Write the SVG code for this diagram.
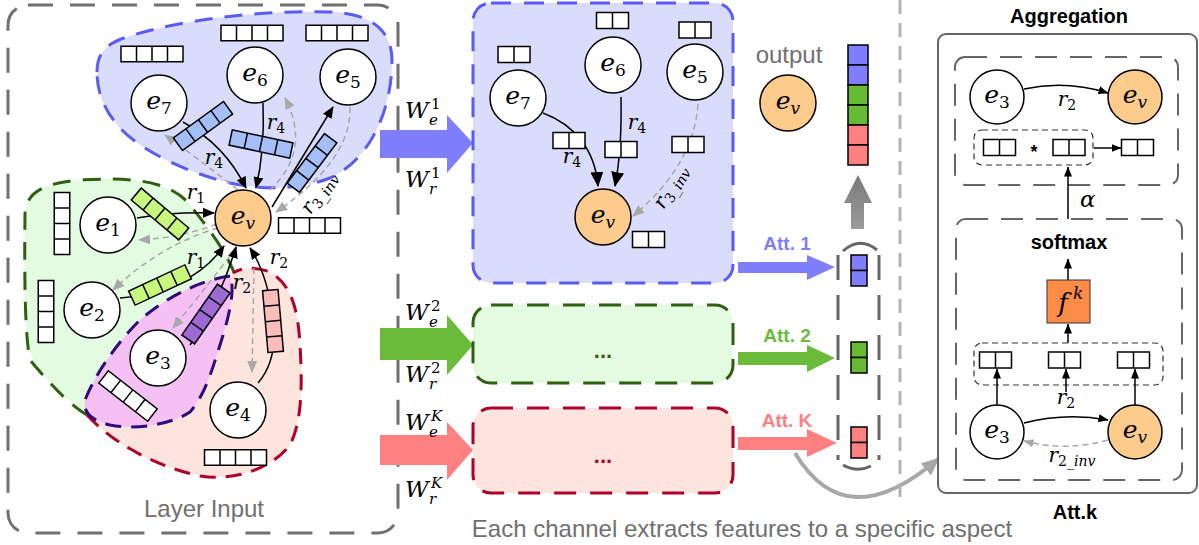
<svg xmlns="http://www.w3.org/2000/svg" width="1199" height="545" viewBox="0 0 1199 545">
<defs>
<style>
.node{fill:#fff;stroke:#000;stroke-width:1.5}
.ev{fill:#fdcc8c;stroke:#000;stroke-width:1.5}
.lbl{font-family:"DejaVu Serif","Liberation Serif",serif;font-style:italic;font-size:25px;fill:#000}
.sub{font-size:17px;font-style:normal}
.subi{font-size:17px;font-style:italic}
.rl{font-family:"DejaVu Serif","Liberation Serif",serif;font-style:italic;font-size:20px;fill:#000}
.rs{font-size:14px;font-style:normal}
.rsi{font-size:14px;font-style:italic}
.W{font-family:"DejaVu Serif","Liberation Serif",serif;font-style:italic;font-size:23px;fill:#000}
.Ws{font-family:"DejaVu Serif","Liberation Serif",serif;font-size:15px;fill:#000}
.edge{fill:none;stroke:#000;stroke-width:1.5}
.back{fill:none;stroke:#a8a8a8;stroke-width:1.5;stroke-dasharray:6 4}
.sans{font-family:"Liberation Sans",Arial,sans-serif}
.bold{font-family:"Liberation Sans",Arial,sans-serif;font-weight:bold;font-size:20px;fill:#000}
.gtxt{font-family:"Liberation Sans",Arial,sans-serif;font-size:23px;fill:#707070}
.dbox{fill:none;stroke:#333;stroke-width:1.2;stroke-dasharray:6 4}
.pbox{fill:none;stroke:#666;stroke-width:2;stroke-dasharray:22 13}
</style>
<g id="bar4"><rect x="-31" y="-7.75" width="62" height="15.5"/><path d="M-15.5-7.75v15.5M0-7.75v15.5M15.5-7.75v15.5" fill="none"/></g>
<g id="bar2"><rect x="-16" y="-8" width="32" height="16"/><path d="M0-8v16" fill="none"/></g>
<marker id="ak" viewBox="0 0 12 10" refX="11" refY="5" markerWidth="12" markerHeight="10" markerUnits="userSpaceOnUse" orient="auto"><path d="M0,0L12,5L0,10z" fill="#000"/></marker>
<marker id="ag" viewBox="0 0 12 10" refX="11" refY="5" markerWidth="12" markerHeight="10" markerUnits="userSpaceOnUse" orient="auto"><path d="M0,0L12,5L0,10z" fill="#a8a8a8"/></marker>
<marker id="akL" viewBox="0 0 15 13" refX="14" refY="6.5" markerWidth="15" markerHeight="13" markerUnits="userSpaceOnUse" orient="auto"><path d="M0,0L15,6.5L0,13z" fill="#000"/></marker>
<marker id="aks" viewBox="0 0 10 8" refX="9.5" refY="4" markerWidth="10" markerHeight="8" markerUnits="userSpaceOnUse" orient="auto"><path d="M0,0L10,4L0,8z" fill="#000"/></marker>
<marker id="ags" viewBox="0 0 10 8" refX="9.5" refY="4" markerWidth="10" markerHeight="8" markerUnits="userSpaceOnUse" orient="auto"><path d="M0,0L10,4L0,8z" fill="#a8a8a8"/></marker>
<marker id="agB" viewBox="0 0 18 16" refX="16" refY="8" markerWidth="18" markerHeight="16" markerUnits="userSpaceOnUse" orient="auto"><path d="M0,0L18,8L0,16z" fill="#a8a8a8"/></marker>
<linearGradient id="gg" x1="0" y1="1" x2="0" y2="0"><stop offset="0" stop-color="#9a9a9a"/><stop offset="1" stop-color="#7a7a7a"/></linearGradient>
</defs>

<!-- ===== Left panel: Layer Input ===== -->
<g id="layer-input">
<rect x="8" y="5" width="390" height="528" rx="20" fill="none" stroke="#707070" stroke-width="3" stroke-dasharray="25 17"/>
<text class="gtxt" x="204" y="517" text-anchor="middle" style="font-size:24px">Layer Input</text>
</g>

<g id="blobs">
<path d="M25,215 C25,195 40,183 80,180 C130,177 170,180 190,205 C210,230 228,255 235,280 L200,340 L120,425 C100,420 87,415 80,410 C55,390 30,365 27,340 C24,300 24,250 25,215 Z" fill="#e3fbe0"/>
<path d="M87,415 C73,407 55,390 30,360 C26,340 24,300 25,215 C25,195 40,183 80,180 C130,177 170,180 190,205 C210,230 228,255 235,275" fill="none" stroke="#2f5f0f" stroke-width="3" stroke-dasharray="18 12"/>
<path d="M87,415 C110,440 150,465 200,476 C240,482 275,465 290,445 C303,420 302,380 300,345 C298,310 292,285 270,272 C255,266 240,268 233,273 L180,330 Z" fill="#fde5dd"/>
<path d="M87,415 C110,440 150,465 200,476 C240,482 275,465 290,445 C303,420 302,380 300,345 C298,310 292,285 270,272 C255,266 240,268 233,273" fill="none" stroke="#b0002a" stroke-width="3" stroke-dasharray="16 10"/>
<path d="M230,276 C200,280 165,298 140,320 C115,345 95,375 85,400 C83,412 90,420 110,425 C135,430 170,425 190,412 C205,395 212,370 220,345 C228,320 236,290 230,276 Z" fill="#f5c1f5" stroke="#2e0a7a" stroke-width="3" stroke-dasharray="16 10"/>
<path d="M97,72 C97,50 110,42 130,36 C180,20 260,10 330,12 C370,13 392,30 392,60 C392,110 370,160 330,178 C300,190 260,190 230,183 C185,172 140,150 120,128 C104,110 97,92 97,72 Z" fill="#dadcfb" stroke="#5b5bf5" stroke-width="3" stroke-dasharray="18 12"/>
</g>

<g id="left-connectors">
<path class="edge" d="M183,122 Q225,145 246,188" marker-end="url(#ak)"/>
<path class="back" d="M238,190 Q200,160 165,135" marker-end="url(#ag)"/>
<path class="edge" d="M263,103 Q265,150 256,188" marker-end="url(#ak)"/>
<path class="back" d="M270,190 Q312,150 285,98" marker-end="url(#ag)"/>
<path class="edge" d="M272,207 L333,107" marker-end="url(#ak)"/>
<path class="back" d="M350,107 Q352,160 276,212" marker-end="url(#ag)"/>
<path class="edge" d="M137,218 Q170,212 214,213" marker-end="url(#ak)"/>
<path class="back" d="M217,224 Q180,238 139,240" marker-end="url(#ag)"/>
<path class="edge" d="M120,298 C160,295 200,280 224,246" marker-end="url(#ak)"/>
<path class="back" d="M218,228 Q160,245 113,290" marker-end="url(#ag)"/>
<path class="edge" d="M190,345 Q220,300 236,247" marker-end="url(#ak)"/>
<path class="back" d="M230,256 Q200,295 173,328" marker-end="url(#ag)"/>
<path class="edge" d="M258,383 Q278,360 273,320 Q268,275 250,248" marker-end="url(#ak)"/>
<path class="back" d="M254,268 L252,372" marker-end="url(#ag)"/>
<use href="#bar4" transform="translate(203,126) rotate(-36)" fill="#a4bff7" stroke="#000" stroke-width="1.5"/>
<use href="#bar4" transform="translate(261,144) rotate(12)" fill="#a4bff7" stroke="#000" stroke-width="1.5"/>
<use href="#bar4" transform="translate(312,163) rotate(-53)" fill="#a4bff7" stroke="#000" stroke-width="1.5"/>
<use href="#bar4" transform="translate(160,214) rotate(40)" fill="#c9f77d" stroke="#000" stroke-width="1.5"/>
<use href="#bar4" transform="translate(160,285) rotate(-25)" fill="#c9f77d" stroke="#000" stroke-width="1.5"/>
<use href="#bar4" transform="translate(206,314) rotate(-55)" fill="#9d6ad3" stroke="#000" stroke-width="1.5"/>
<use href="#bar4" transform="translate(273,321) rotate(85)" fill="#fbbcbc" stroke="#000" stroke-width="1.5"/>
<text class="rl" x="214" y="164" text-anchor="middle">r<tspan class="rs" dy="4">4</tspan></text>
<text class="rl" x="276" y="129" text-anchor="middle">r<tspan class="rs" dy="4">4</tspan></text>
<text class="rl" x="196" y="199" text-anchor="middle">r<tspan class="rs" dy="4">1</tspan></text>
<text class="rl" x="196" y="264" text-anchor="middle">r<tspan class="rs" dy="4">1</tspan></text>
<text class="rl" x="242" y="289" text-anchor="middle">r<tspan class="rs" dy="4">2</tspan></text>
<text class="rl" x="279" y="264" text-anchor="middle">r<tspan class="rs" dy="4">2</tspan></text>
<text class="rl" transform="translate(324,196) rotate(-55)" x="0" y="0" text-anchor="middle" fill="#333">r<tspan class="rs" dy="4">3_</tspan><tspan class="rsi">inv</tspan></text>
</g>

<g id="left-nodes">
<g id="L-e7"><circle class="node" cx="159" cy="103" r="28"/><text class="lbl" x="159" y="109" text-anchor="middle">e<tspan class="sub" dy="5">7</tspan></text><use href="#bar4" transform="translate(152,54)" fill="#fff" stroke="#000" stroke-width="1.5"/></g>
<g id="L-e6"><circle class="node" cx="255" cy="75" r="28"/><text class="lbl" x="255" y="81" text-anchor="middle">e<tspan class="sub" dy="5">6</tspan></text><use href="#bar4" transform="translate(252,33)" fill="#fff" stroke="#000" stroke-width="1.5"/></g>
<g id="L-e5"><circle class="node" cx="348" cy="77" r="28"/><text class="lbl" x="348" y="83" text-anchor="middle">e<tspan class="sub" dy="5">5</tspan></text><use href="#bar4" transform="translate(337,33)" fill="#fff" stroke="#000" stroke-width="1.5"/></g>
<g id="L-ev"><circle class="ev" cx="243" cy="218" r="28"/><text class="lbl" x="243" y="224" text-anchor="middle">e<tspan class="subi" dy="5">v</tspan></text><use href="#bar4" transform="translate(309.5,225.5)" fill="#fff" stroke="#000" stroke-width="1.5"/></g>
<g id="L-e1"><circle class="node" cx="108" cy="225" r="28"/><text class="lbl" x="108" y="231" text-anchor="middle">e<tspan class="sub" dy="5">1</tspan></text><use href="#bar4" transform="translate(62,223.5) rotate(90)" fill="#fff" stroke="#000" stroke-width="1.5"/></g>
<g id="L-e2"><circle class="node" cx="92" cy="310" r="28"/><text class="lbl" x="92" y="316" text-anchor="middle">e<tspan class="sub" dy="5">2</tspan></text><use href="#bar4" transform="translate(46,311.5) rotate(90)" fill="#fff" stroke="#000" stroke-width="1.5"/></g>
<g id="L-e3"><circle class="node" cx="158" cy="358" r="28"/><text class="lbl" x="158" y="364" text-anchor="middle">e<tspan class="sub" dy="5">3</tspan></text><use href="#bar4" transform="translate(128,396) rotate(38)" fill="#fff" stroke="#000" stroke-width="1.5"/></g>
<g id="L-e4"><circle class="node" cx="238" cy="410" r="28"/><text class="lbl" x="238" y="416" text-anchor="middle">e<tspan class="sub" dy="5">4</tspan></text><use href="#bar4" transform="translate(235.5,457.5)" fill="#fff" stroke="#000" stroke-width="1.5"/></g>
</g>

<!-- ===== Channel arrows ===== -->
<g id="channel-arrows">
<path d="M380,130H447V115L473,143L447,173V158H380Z" fill="#7f7ffd"/>
<path d="M380,328H447V315L473,345L447,375V360H380Z" fill="#6abb3a"/>
<path d="M380,435H447V422L473,450L447,480V465H380Z" fill="#ff8080"/>
<text class="W" x="405" y="118">W</text><text class="Ws" x="429" y="125" font-style="italic">e</text><text class="Ws" x="431" y="109">1</text>
<text class="W" x="405" y="187">W</text><text class="Ws" x="429" y="194" font-style="italic">r</text><text class="Ws" x="431" y="178">1</text>
<text class="W" x="405" y="320">W</text><text class="Ws" x="429" y="327" font-style="italic">e</text><text class="Ws" x="431" y="311">2</text>
<text class="W" x="405" y="382">W</text><text class="Ws" x="429" y="389" font-style="italic">r</text><text class="Ws" x="431" y="373">2</text>
<text class="W" x="405" y="430">W</text><text class="Ws" x="429" y="437" font-style="italic">e</text><text class="Ws" x="431" y="421" font-style="italic">K</text>
<text class="W" x="405" y="497">W</text><text class="Ws" x="429" y="504" font-style="italic">r</text><text class="Ws" x="431" y="488" font-style="italic">K</text>
</g>

<!-- ===== Middle channels ===== -->
<g id="channel-1">
<rect x="473" y="3" width="260" height="280" rx="18" fill="#dadcfb" stroke="#5b5bf5" stroke-width="3" stroke-dasharray="20 13"/>
<path class="edge" d="M543,113 C575,125 595,150 598,186" marker-end="url(#akL)"/>
<path class="edge" d="M621,97 Q622,150 615,186" marker-end="url(#akL)"/>
<path class="back" d="M698,104 Q694,165 633,216" marker-end="url(#ag)"/>
<use href="#bar2" transform="translate(569,140.5)" fill="#fff" stroke="#000" stroke-width="1.5"/>
<use href="#bar2" transform="translate(621,149.5)" fill="#fff" stroke="#000" stroke-width="1.5"/>
<use href="#bar2" transform="translate(688,144.5)" fill="#fff" stroke="#000" stroke-width="1.5"/>
<text class="rl" x="572" y="163" text-anchor="middle">r<tspan class="rs" dy="4">4</tspan></text>
<text class="rl" x="637" y="129" text-anchor="middle">r<tspan class="rs" dy="4">4</tspan></text>
<text class="rl" transform="translate(676,190) rotate(-58)" x="0" y="0" text-anchor="middle" fill="#333">r<tspan class="rs" dy="4">3_</tspan><tspan class="rsi">inv</tspan></text>
<g id="M-e7"><circle class="node" cx="518" cy="98" r="28"/><text class="lbl" x="518" y="104" text-anchor="middle">e<tspan class="sub" dy="5">7</tspan></text><use href="#bar2" transform="translate(514,54.5)" fill="#fff" stroke="#000" stroke-width="1.5"/></g>
<g id="M-e6"><circle class="node" cx="613" cy="65" r="28"/><text class="lbl" x="613" y="71" text-anchor="middle">e<tspan class="sub" dy="5">6</tspan></text><use href="#bar2" transform="translate(612.5,20.5)" fill="#fff" stroke="#000" stroke-width="1.5"/></g>
<g id="M-e5"><circle class="node" cx="695" cy="72" r="28"/><text class="lbl" x="695" y="78" text-anchor="middle">e<tspan class="sub" dy="5">5</tspan></text><use href="#bar2" transform="translate(695,30)" fill="#fff" stroke="#000" stroke-width="1.5"/></g>
<g id="M-ev"><circle class="ev" cx="603" cy="217" r="28"/><text class="lbl" x="603" y="223" text-anchor="middle">e<tspan class="subi" dy="5">v</tspan></text><use href="#bar2" transform="translate(648.5,239.5)" fill="#fff" stroke="#000" stroke-width="1.5"/></g>
</g>
<g id="channel-2">
<rect x="473" y="305" width="260" height="78" rx="18" fill="#e4fbe2" stroke="#2f5f0f" stroke-width="3" stroke-dasharray="22 14"/>
<text class="sans" x="603" y="358" text-anchor="middle" font-size="22" font-weight="bold" fill="#2f5f0f">...</text>
</g>
<g id="channel-K">
<rect x="473" y="408" width="260" height="85" rx="18" fill="#fde5dd" stroke="#b0002a" stroke-width="3" stroke-dasharray="22 14"/>
<text class="sans" x="603" y="463" text-anchor="middle" font-size="22" font-weight="bold" fill="#b0002a">...</text>
</g>

<!-- ===== Output and attention ===== -->
<g id="output">
<text class="gtxt" x="789" y="63" text-anchor="middle" style="font-size:24px">output</text>
<circle class="ev" cx="788" cy="103" r="28"/><text class="lbl" x="788" y="109" text-anchor="middle">e<tspan class="subi" dy="5">v</tspan></text>
<g stroke="#000" stroke-width="1.5">
<rect x="848" y="45" width="20" height="20" fill="#7f7ffd"/><rect x="848" y="65" width="20" height="20" fill="#7f7ffd"/>
<rect x="848" y="85" width="20" height="20" fill="#66bb33"/><rect x="848" y="105" width="20" height="20" fill="#66bb33"/>
<rect x="848" y="125" width="20" height="20" fill="#ff8080"/><rect x="848" y="145" width="20" height="20" fill="#ff8080"/>
</g>
<path d="M851,229V203H844L858,175L872,203H864V229Z" fill="url(#gg)"/>
</g>

<g id="attention-bracket">
<path d="M838,255V460M879,255V460" stroke="#666" stroke-width="3" stroke-dasharray="25 15" fill="none"/>
<path d="M843,251 Q860,236 877,250" stroke="#666" stroke-width="3" fill="none"/>
<path d="M843,465 Q857,473 871,466" stroke="#666" stroke-width="3" fill="none"/>
<g stroke="#000" stroke-width="1.5">
<rect x="851" y="255" width="16" height="15.5" fill="#7f7ffd"/><rect x="851" y="270.5" width="16" height="15.5" fill="#7f7ffd"/>
<rect x="851" y="342" width="16" height="15.5" fill="#66bb33"/><rect x="851" y="357.5" width="16" height="15.5" fill="#66bb33"/>
<rect x="851" y="427" width="16" height="15.5" fill="#ff8080"/><rect x="851" y="442.5" width="16" height="15.5" fill="#ff8080"/>
</g>
</g>

<g id="att-arrows">
<path d="M738,262H807V255L835,267L807,280V273H738Z" fill="#7f7ffd"/>
<text class="sans" x="787" y="250" text-anchor="middle" font-size="19" font-weight="bold" fill="#7f7ffd">Att. 1</text>
<path d="M738,352H807V345L835,358L807,372V365H738Z" fill="#6abb3a"/>
<text class="sans" x="787" y="342" text-anchor="middle" font-size="19" font-weight="bold" fill="#6abb3a">Att. 2</text>
<path d="M738,437H807V429L837,443L807,457V450H738Z" fill="#ff8080"/>
<text class="sans" x="787" y="427" text-anchor="middle" font-size="19" font-weight="bold" fill="#ff8080">Att. K</text>
<path d="M795,453 Q846,538 938,459" fill="none" stroke="#a8a8a8" stroke-width="4" marker-end="url(#agB)"/>
</g>

<line x1="900" y1="0" x2="900" y2="503" stroke="#b3b3b3" stroke-width="3" stroke-dasharray="14 9"/>
<text class="gtxt" x="742" y="537" text-anchor="middle" style="font-size:24px">Each channel extracts features to a specific aspect</text>

<!-- ===== Right panel ===== -->
<g id="right-panel">
<text class="bold" x="1069" y="23" text-anchor="middle">Aggregation</text>
<rect x="938" y="34" width="259" height="459" rx="8" fill="none" stroke="#666" stroke-width="2"/>
<text class="bold" x="1075" y="519" text-anchor="middle">Att.k</text>
</g>

<g id="aggregation">
<rect class="pbox" x="955" y="57" width="223" height="128" rx="10"/>
<path class="edge" d="M1024,89 Q1066,80 1108,93" marker-end="url(#aks)"/>
<text class="rl" x="1067" y="106" text-anchor="middle">r<tspan class="rs" dy="4">2</tspan></text>
<g id="A-e3"><circle class="node" cx="997" cy="97" r="27"/><text class="lbl" x="997" y="103" text-anchor="middle">e<tspan class="sub" dy="5">3</tspan></text></g>
<g id="A-ev"><circle class="ev" cx="1135" cy="97" r="27"/><text class="lbl" x="1135" y="103" text-anchor="middle">e<tspan class="subi" dy="5">v</tspan></text></g>
<rect class="dbox" x="974" y="130" width="119" height="35" rx="8"/>
<use href="#bar2" transform="translate(999.5,147.5)" fill="#fff" stroke="#000" stroke-width="1.5"/>
<text class="sans" x="1034" y="158" text-anchor="middle" font-size="18" font-weight="bold">*</text>
<use href="#bar2" transform="translate(1069,147.5)" fill="#fff" stroke="#000" stroke-width="1.5"/>
<path class="edge" d="M1094,148 L1121,148" marker-end="url(#aks)"/>
<use href="#bar2" transform="translate(1137.5,147.5)" fill="#fff" stroke="#000" stroke-width="1.5"/>
<path class="edge" d="M1068,219 L1068,167" marker-end="url(#aks)"/>
<text class="rl" x="1080" y="207" style="font-size:23px">α</text>
</g>

<g id="att-k">
<rect class="pbox" x="956" y="219" width="226" height="261" rx="10"/>
<text class="bold" x="1069" y="249" text-anchor="middle">softmax</text>
<path class="edge" d="M1068,280 L1068,259" marker-end="url(#aks)"/>
<rect x="1047" y="280" width="43" height="43" fill="#fd8c47" stroke="#333" stroke-width="1"/>
<text class="rl" x="1063" y="312" text-anchor="middle" style="font-size:26px">f</text><text class="rl" x="1073" y="299" style="font-size:17px">k</text>
<path class="edge" d="M1068,343 L1068,324" marker-end="url(#aks)"/>
<rect class="dbox" x="974" y="343" width="189" height="42" rx="8"/>
<use href="#bar2" transform="translate(995.5,360)" fill="#fff" stroke="#000" stroke-width="1.5"/>
<use href="#bar2" transform="translate(1064.5,360)" fill="#fff" stroke="#000" stroke-width="1.5"/>
<use href="#bar2" transform="translate(1133.5,360)" fill="#fff" stroke="#000" stroke-width="1.5"/>
<path class="edge" d="M997,405 L997,369" marker-end="url(#aks)"/>
<path class="edge" d="M1066,392 L1066,369" marker-end="url(#aks)"/>
<path class="edge" d="M1135,405 L1135,369" marker-end="url(#aks)"/>
<text class="rl" x="1066" y="404" text-anchor="middle">r<tspan class="rs" dy="4">2</tspan></text>
<path class="edge" d="M1024,423 Q1066,412 1108,420" marker-end="url(#aks)"/>
<path class="back" d="M1108,440 Q1066,452 1024,441" marker-end="url(#ags)"/>
<text class="rl" x="1072" y="462" text-anchor="middle">r<tspan class="rs" dy="4">2_</tspan><tspan class="rsi">inv</tspan></text>
<g id="K-e3"><circle class="node" cx="997" cy="432" r="27"/><text class="lbl" x="997" y="438" text-anchor="middle">e<tspan class="sub" dy="5">3</tspan></text></g>
<g id="K-ev"><circle class="ev" cx="1135" cy="432" r="27"/><text class="lbl" x="1135" y="438" text-anchor="middle">e<tspan class="subi" dy="5">v</tspan></text></g>
</g>
</svg>
